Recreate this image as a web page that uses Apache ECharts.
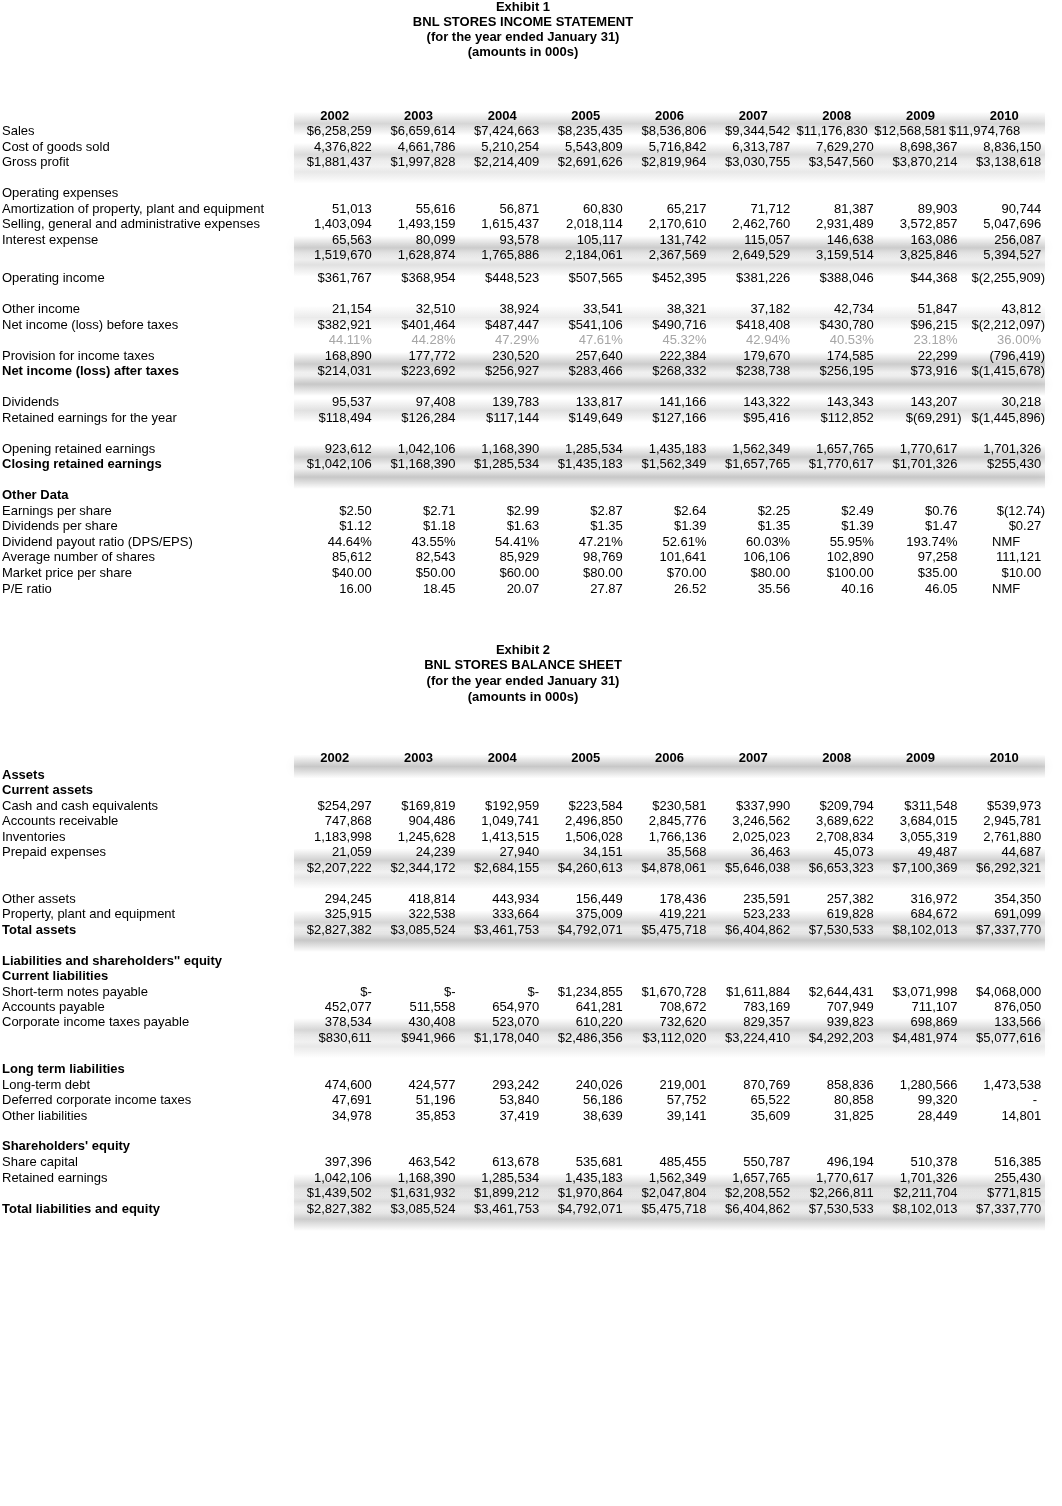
<!DOCTYPE html>
<html>
<head>
<meta charset="utf-8">
<script src="https://cdn.jsdelivr.net/npm/echarts@6/dist/echarts.min.js"></script>
<style>
  html, body { margin: 0; padding: 0; background: #fff; }
  #main { width: 1062px; height: 1506px; }
</style>
</head>
<body>
<div id="main"></div>
<script>
const years = ['2002', '2003', '2004', '2005', '2006', '2007', '2008', '2009', '2010'];

// Exhibit 1 - income statement
const sales = [6258259, 6659614, 7424663, 8235435, 8536806, 9344542, 11176830, 12568581, 11974768];
const cogs = [4376822, 4661786, 5210254, 5543809, 5716842, 6313787, 7629270, 8698367, 8836150];
const grossProfit = [1881437, 1997828, 2214409, 2691626, 2819964, 3030755, 3547560, 3870214, 3138618];
const amortization = [51013, 55616, 56871, 60830, 65217, 71712, 81387, 89903, 90744];
const sga = [1403094, 1493159, 1615437, 2018114, 2170610, 2462760, 2931489, 3572857, 5047696];
const interest = [65563, 80099, 93578, 105117, 131742, 115057, 146638, 163086, 256087];
const totalOpex = [1519670, 1628874, 1765886, 2184061, 2367569, 2649529, 3159514, 3825846, 5394527];
const opIncome = [361767, 368954, 448523, 507565, 452395, 381226, 388046, 44368, -2255909];
const otherIncome = [21154, 32510, 38924, 33541, 38321, 37182, 42734, 51847, 43812];
const niBeforeTax = [382921, 401464, 487447, 541106, 490716, 418408, 430780, 96215, -2212097];
const taxRate = [44.11, 44.28, 47.29, 47.61, 45.32, 42.94, 40.53, 23.18, 36.00];
const taxProvision = [168890, 177772, 230520, 257640, 222384, 179670, 174585, 22299, -796419];
const niAfterTax = [214031, 223692, 256927, 283466, 268332, 238738, 256195, 73916, -1415678];
const dividends = [95537, 97408, 139783, 133817, 141166, 143322, 143343, 143207, 30218];
const reForYear = [118494, 126284, 117144, 149649, 127166, 95416, 112852, -69291, -1445896];
const openingRE = [923612, 1042106, 1168390, 1285534, 1435183, 1562349, 1657765, 1770617, 1701326];
const closingRE = [1042106, 1168390, 1285534, 1435183, 1562349, 1657765, 1770617, 1701326, 255430];
const eps = [2.50, 2.71, 2.99, 2.87, 2.64, 2.25, 2.49, 0.76, -12.74];
const dps = [1.12, 1.18, 1.63, 1.35, 1.39, 1.35, 1.39, 1.47, 0.27];
const payout = [44.64, 43.55, 54.41, 47.21, 52.61, 60.03, 55.95, 193.74, null];
const shares = [85612, 82543, 85929, 98769, 101641, 106106, 102890, 97258, 111121];
const price = [40, 50, 60, 80, 70, 80, 100, 35, 10];
const peRatio = [16.00, 18.45, 20.07, 27.87, 26.52, 35.56, 40.16, 46.05, null];

// Exhibit 2 - balance sheet
const cash = [254297, 169819, 192959, 223584, 230581, 337990, 209794, 311548, 539973];
const receivables = [747868, 904486, 1049741, 2496850, 2845776, 3246562, 3689622, 3684015, 2945781];
const inventories = [1183998, 1245628, 1413515, 1506028, 1766136, 2025023, 2708834, 3055319, 2761880];
const prepaid = [21059, 24239, 27940, 34151, 35568, 36463, 45073, 49487, 44687];
const currentAssets = [2207222, 2344172, 2684155, 4260613, 4878061, 5646038, 6653323, 7100369, 6292321];
const otherAssets = [294245, 418814, 443934, 156449, 178436, 235591, 257382, 316972, 354350];
const ppe = [325915, 322538, 333664, 375009, 419221, 523233, 619828, 684672, 691099];
const totalAssets = [2827382, 3085524, 3461753, 4792071, 5475718, 6404862, 7530533, 8102013, 7337770];
const stNotes = [0, 0, 0, 1234855, 1670728, 1611884, 2644431, 3071998, 4068000];
const payables = [452077, 511558, 654970, 641281, 708672, 783169, 707949, 711107, 876050];
const taxPayable = [378534, 430408, 523070, 610220, 732620, 829357, 939823, 698869, 133566];
const currentLiab = [830611, 941966, 1178040, 2486356, 3112020, 3224410, 4292203, 4481974, 5077616];
const ltDebt = [474600, 424577, 293242, 240026, 219001, 870769, 858836, 1280566, 1473538];
const deferredTax = [47691, 51196, 53840, 56186, 57752, 65522, 80858, 99320, 0];
const otherLiab = [34978, 35853, 37419, 38639, 39141, 35609, 31825, 28449, 14801];
const shareCapital = [397396, 463542, 613678, 535681, 485455, 550787, 496194, 510378, 516385];
const retainedEarnings = [1042106, 1168390, 1285534, 1435183, 1562349, 1657765, 1770617, 1701326, 255430];
const totalEquity = [1439502, 1631932, 1899212, 1970864, 2047804, 2208552, 2266811, 2211704, 771815];
const totalLiabEquity = [2827382, 3085524, 3461753, 4792071, 5475718, 6404862, 7530533, 8102013, 7337770];

const titlesIS = ['Exhibit 1', 'BNL STORES INCOME STATEMENT', '(for the year ended January 31)', '(amounts in 000s)'];
const titlesBS = ['Exhibit 2', 'BNL STORES BALANCE SHEET', '(for the year ended January 31)', '(amounts in 000s)'];

// layout: row units of 15.5px, offsets from each exhibit's year header
const UNIT = 15.5;
const PAGE_H = 1506;
const baseIS = 116 / UNIT;
const baseBS = 758 / UNIT;
const FONT = '"Liberation Sans", Arial, sans-serif';

const rowsIS = [
  [1, 'Sales', sales, 'dollar'],
  [2, 'Cost of goods sold', cogs, 'plain'],
  [3, 'Gross profit', grossProfit, 'dollar'],
  [5, 'Operating expenses', null],
  [6, 'Amortization of property, plant and equipment', amortization, 'plain'],
  [7, 'Selling, general and administrative expenses', sga, 'plain'],
  [8, 'Interest expense', interest, 'plain'],
  [9, '', totalOpex, 'plain'],
  [10.5, 'Operating income', opIncome, 'dollar'],
  [12.5, 'Other income', otherIncome, 'plain'],
  [13.5, 'Net income (loss) before taxes', niBeforeTax, 'dollar'],
  [14.5, '', taxRate, 'pctGray'],
  [15.5, 'Provision for income taxes', taxProvision, 'plain'],
  [16.5, 'Net income (loss) after taxes', niAfterTax, 'dollar', true],
  [18.5, 'Dividends', dividends, 'plain'],
  [19.5, 'Retained earnings for the year', reForYear, 'dollar'],
  [21.5, 'Opening retained earnings', openingRE, 'plain'],
  [22.5, 'Closing retained earnings', closingRE, 'dollar', true],
  [24.5, 'Other Data', null, null, true],
  [25.5, 'Earnings per share', eps, 'cents'],
  [26.5, 'Dividends per share', dps, 'cents'],
  [27.5, 'Dividend payout ratio (DPS/EPS)', payout, 'pct'],
  [28.5, 'Average number of shares', shares, 'plain'],
  [29.5, 'Market price per share', price, 'cents'],
  [30.55, 'P/E ratio', peRatio, 'ratio']
];

const rowsBS = [
  [1.1, 'Assets', null, null, true],
  [2.06, 'Current assets', null, null, true],
  [3.1, 'Cash and cash equivalents', cash, 'dollar'],
  [4.06, 'Accounts receivable', receivables, 'plain'],
  [5.1, 'Inventories', inventories, 'plain'],
  [6.06, 'Prepaid expenses', prepaid, 'plain'],
  [7.1, '', currentAssets, 'dollar'],
  [9.1, 'Other assets', otherAssets, 'plain'],
  [10.06, 'Property, plant and equipment', ppe, 'plain'],
  [11.1, 'Total assets', totalAssets, 'dollar', true],
  [13.1, "Liabilities and shareholders'' equity", null, null, true],
  [14.06, 'Current liabilities', null, null, true],
  [15.1, 'Short-term notes payable', stNotes, 'dollar'],
  [16.06, 'Accounts payable', payables, 'plain'],
  [17.03, 'Corporate income taxes payable', taxPayable, 'plain'],
  [18.06, '', currentLiab, 'dollar'],
  [20.06, 'Long term liabilities', null, null, true],
  [21.1, 'Long-term debt', ltDebt, 'plain'],
  [22.06, 'Deferred corporate income taxes', deferredTax, 'plain'],
  [23.1, 'Other liabilities', otherLiab, 'plain'],
  [25.03, "Shareholders' equity", null, null, true],
  [26.06, 'Share capital', shareCapital, 'plain'],
  [27.1, 'Retained earnings', retainedEarnings, 'plain'],
  [28.06, '', totalEquity, 'dollar'],
  [29.1, 'Total liabilities and equity', totalLiabEquity, 'dollar', true]
];

// soft grey underline bands: [offset, strength]
const bandsIS = [[0.5, 0.8], [2.5, 0.7], [3.6, 0.45], [8.5, 1], [9.6, 0.6], [13.0, 0.4],
  [16.0, 1], [17.3, 1.1], [19.0, 0.6], [22.0, 1], [23.3, 1.1]];
const bandsBS = [[0.55, 1.1], [6.6, 0.9], [7.7, 0.5], [10.6, 0.8], [11.75, 1.1], [17.55, 0.8],
  [18.6, 0.45], [27.6, 0.8], [28.6, 0.7], [29.75, 1]];

function commas(n) {
  return String(Math.round(n)).replace(/\B(?=(\d{3})+(?!\d))/g, ',');
}
function fmt(v, kind) {
  if (v === null || v === undefined) return 'NMF';
  switch (kind) {
    case 'dollar':
      if (v === 0) return '$-';
      return v < 0 ? '$(' + commas(-v) + ')' : '$' + commas(v);
    case 'plain':
      if (v === 0) return '-';
      return v < 0 ? '(' + commas(-v) + ')' : commas(v);
    case 'cents':
      return v < 0 ? '$(' + (-v).toFixed(2) + ')' : '$' + v.toFixed(2);
    case 'pct':
    case 'pctGray':
      return v.toFixed(2) + '%';
    case 'ratio':
      return v.toFixed(2);
  }
  return String(v);
}

// cells: col (-1 = row label, -2 = title), y in row units
const cells = [];
function addExhibit(base, titles, titleAt, rows) {
  titles.forEach((t, i) => cells.push({ col: -2, y: base + titleAt[i], text: t, bold: true }));
  years.forEach((yr, i) => cells.push({ col: i, y: base, text: yr, bold: true, kind: 'head' }));
  rows.forEach(r => {
    const [at, label, vals, kind, bold] = r;
    if (label) cells.push({ col: -1, y: base + at, text: label, bold: !!bold });
    if (vals) {
      vals.forEach((v, i) => cells.push({ col: i, y: base + at, text: fmt(v, kind), kind, isNull: v === null }));
    }
  });
}
addExhibit(baseIS, titlesIS, [-7.03, -6.06, -5.1, -4.13], rowsIS);
addExhibit(baseBS, titlesBS, [-6.97, -6.0, -4.97, -3.94], rowsBS);

const bands = bandsIS.map(b => [0, baseIS + b[0], b[1]])
  .concat(bandsBS.map(b => [0, baseBS + b[0], b[1]]));

// the 2008-2010 sales figures sit a bit left of the column edge in the source
const overflowShift = { 6: -6, 7: -11, 8: -21 };

function renderText(params, api) {
  const c = cells[params.dataIndex];
  const colIdx = c.col < 0 ? 0 : c.col;
  const pt = api.coord([colIdx, c.y]);
  let x, align = 'right';
  let fill = '#000';
  if (c.col === -2) {
    x = 523; align = 'center';
  } else if (c.col === -1) {
    x = 2; align = 'left';
  } else if (c.kind === 'head') {
    x = pt[0] + 2; align = 'center';
  } else if (c.isNull) {
    x = pt[0] + 4; align = 'center';
  } else {
    x = pt[0] + 39;
    if (c.text.endsWith(')')) x += 4;
    if (c.text === '-') x -= 4;
    if (c.kind === 'dollar' && c.text.length >= 11 && overflowShift[c.col] !== undefined && c.text.indexOf('(') < 0) {
      x += overflowShift[c.col];
    }
    if (c.kind === 'pctGray') fill = '#a6a6a6';
  }
  return {
    type: 'text',
    style: {
      x: x,
      y: pt[1],
      text: c.text,
      align: align,
      verticalAlign: 'middle',
      font: (c.bold ? 'bold ' : '') + '13px ' + FONT,
      fill: fill
    }
  };
}

function renderBand(params, api) {
  const y = api.value(1);
  const s = api.value(2);
  const left = api.coord([0, y]);
  const right = api.coord([years.length - 1, y]);
  const band = api.size([1, 0])[0];
  const x0 = left[0] - band / 2 + 3;
  const x1 = right[0] + band / 2 + 1;
  const h = 24;
  const a = 0.16 * s;
  return {
    type: 'rect',
    shape: { x: x0, y: left[1] - h / 2, width: x1 - x0, height: h },
    style: {
      fill: new echarts.graphic.LinearGradient(0, 0, 0, 1, [
        { offset: 0, color: 'rgba(0,0,0,0)' },
        { offset: 0.5, color: 'rgba(0,0,0,' + a + ')' },
        { offset: 1, color: 'rgba(0,0,0,0)' }
      ]),
      shadowBlur: 10,
      shadowColor: 'rgba(0,0,0,0.3)'
    }
  };
}

const chart = echarts.init(document.getElementById('main'), null, { renderer: 'canvas' });

const option = {
  animation: false,
  backgroundColor: '#ffffff',
  grid: { left: 291, width: 753, top: 0, height: PAGE_H },
  xAxis: { type: 'category', data: years, show: false, boundaryGap: true },
  yAxis: { type: 'value', inverse: true, min: 0, max: PAGE_H / UNIT, show: false },
  series: [
    {
      type: 'custom',
      name: 'bands',
      renderItem: renderBand,
      data: bands,
      clip: false,
      silent: true,
      z: 1
    },
    {
      type: 'custom',
      name: 'cells',
      renderItem: renderText,
      data: cells.map(c => [c.col < 0 ? 0 : c.col, c.y]),
      clip: false,
      silent: true,
      z: 2
    }
  ]
};

chart.setOption(option);
</script>
</body>
</html>
